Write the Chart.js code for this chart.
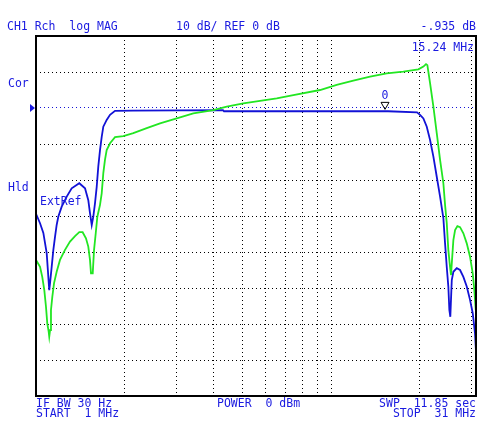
<!DOCTYPE html>
<html>
<head>
<meta charset="utf-8">
<script src="https://cdn.jsdelivr.net/npm/chart.js@4.4.1/dist/chart.umd.min.js"></script>
<style>
  body { margin: 0; background: #fff; }
  #wrap { width: 487px; height: 427px; }
</style>
</head>
<body>
<div id="wrap"><canvas id="trace"></canvas></div>
<script>
// trace 1 (blue), frequency in MHz and magnitude in dB
const blueFreq = [1.000, 1.032, 1.059, 1.087, 1.101, 1.109, 1.116, 1.130, 1.145, 1.160,
  1.175, 1.190, 1.222, 1.271, 1.321, 1.402, 1.466, 1.504, 1.524, 1.545,
  1.564, 1.585, 1.606, 1.626, 1.648, 1.670, 1.691, 1.736, 1.782, 1.853,
  2.132, 4.303, 4.337, 15.61, 19.57, 20.03, 20.56, 21.11, 21.66, 22.23,
  22.82, 23.42, 24.03, 24.35, 24.67, 24.98, 25.18, 25.37, 25.66, 25.98,
  26.68, 27.37, 28.09, 28.84, 29.59, 30.22, 30.76, 31.0];
const blueDb = [-29.4, -32.0, -34.7, -40.3, -46.9, -50.6, -48.6, -44.2, -39.4, -35.8,
  -32.5, -30.2, -27.4, -24.6, -22.3, -20.9, -22.3, -25.6, -29.2, -32.5,
  -30.2, -26.4, -21.9, -16.3, -11.7, -8.0, -5.2, -3.3, -1.9, -0.8,
  -0.75, -0.6, -0.9, -0.9, -1.2, -1.9, -2.9, -5.2, -8.9, -13.5,
  -19.1, -24.6, -30.6, -37.6, -44.1, -49.6, -56.1, -58.0, -47.8, -45.5,
  -44.5, -45.0, -46.9, -49.6, -53.3, -57.0, -62.6, -67.7];

// trace 2 (green)
const greenFreq = [1.000, 1.032, 1.050, 1.067, 1.081, 1.092, 1.104, 1.109, 1.116, 1.124,
  1.136, 1.151, 1.175, 1.206, 1.254, 1.304, 1.356, 1.402, 1.439, 1.477,
  1.504, 1.524, 1.536, 1.557, 1.573, 1.594, 1.614, 1.648, 1.670, 1.691,
  1.713, 1.736, 1.782, 1.853, 1.977, 2.137, 2.373, 2.633, 2.999, 3.413,
  3.990, 4.431, 5.044, 5.744, 6.546, 7.451, 9.177, 10.45, 11.90, 13.56,
  15.45, 17.58, 19.77, 20.56, 20.99, 21.21, 21.66, 22.23, 22.82, 23.42,
  24.03, 24.35, 24.67, 24.98, 25.31, 25.51, 25.71, 25.98, 26.33, 26.81,
  27.37, 28.09, 28.84, 29.59, 30.22, 30.60, 30.94];
const greenDb = [-42.2, -44.1, -46.9, -50.6, -55.2, -59.8, -62.1, -63.5, -61.7, -56.1,
  -52.4, -48.7, -45.5, -42.2, -39.4, -37.1, -35.6, -34.5, -34.5, -36.2,
  -38.5, -42.2, -45.9, -45.9, -39.4, -34.8, -30.2, -26.9, -23.7, -18.1,
  -14.4, -11.7, -9.8, -8.1, -7.8, -7.0, -5.6, -4.3, -2.9, -1.5,
  -0.6, 0.4, 1.3, 2.0, 2.7, 3.6, 5.0, 6.4, 7.6, 8.7,
  9.6, 10.1, 10.75, 11.5, 12.2, 11.9, 6.9, 0.4, -7.0, -14.4,
  -20.9, -26.9, -31.9, -39.4, -44.1, -46.4, -42.2, -36.7, -33.9, -32.8,
  -33.1, -34.8, -37.6, -41.3, -45.9, -50.6, -56.1];

// axes: log frequency 1..31 MHz, 10 dB/div with REF 0 dB
const freqTicks = [1, 2, 3, 4, 5, 6, 7, 8, 9, 10, 20, 30, 31];
const startMHz = 1, stopMHz = 31;
const dbTop = 20, dbBottom = -80, dbPerDiv = 10, refDb = 0;

// marker
const markerFreq = 15.24;
const markerDb = -0.935;

const BLUE = '#1212d6';
const GREEN = '#22e622';
const TEXT = '#1a1ae0';
const FONT = '11.5px "DejaVu Sans Mono", monospace';

const toXY = (fs, ds) => fs.map((f, i) => ({ x: f, y: ds[i] }));

const analyzerText = {
  id: 'analyzerText',
  afterDraw(chart) {
    const { ctx, chartArea: a, scales } = chart;
    ctx.save();
    // frame
    ctx.strokeStyle = '#000';
    ctx.lineWidth = 2;
    ctx.strokeRect(a.left, a.top, a.right - a.left, a.bottom - a.top);

    ctx.fillStyle = TEXT;
    ctx.font = FONT;
    ctx.textBaseline = 'middle';
    ctx.textAlign = 'left';
    ctx.fillText('CH1 Rch  log MAG', 7, 27);
    ctx.fillText('10 dB/ REF 0 dB', 176, 27);
    ctx.fillText('Cor', 8, 84);
    ctx.fillText('Hld', 8, 188);
    ctx.fillText('ExtRef', 40, 202);
    ctx.fillText('IF BW 30 Hz', 36, 404);
    ctx.fillText('START  1 MHz', 36, 414);
    ctx.fillText('POWER  0 dBm', 217, 404);
    ctx.textAlign = 'right';
    ctx.fillText('-.935 dB', 476, 27);
    ctx.fillText('15.24 MHz', 474, 48);
    ctx.fillText('SWP  11.85 sec', 476, 404);
    ctx.fillText('STOP  31 MHz', 476, 414);

    // reference arrow on the left
    const yRef = scales.y.getPixelForValue(refDb);
    ctx.beginPath();
    ctx.moveTo(30, yRef - 4);
    ctx.lineTo(35, yRef);
    ctx.lineTo(30, yRef + 4);
    ctx.closePath();
    ctx.fill();

    // marker 0
    const mx = scales.x.getPixelForValue(markerFreq);
    const my = scales.y.getPixelForValue(markerDb);
    ctx.strokeStyle = '#000';
    ctx.lineWidth = 1;
    ctx.beginPath();
    ctx.moveTo(mx - 4, my - 9);
    ctx.lineTo(mx + 4, my - 9);
    ctx.lineTo(mx, my - 2);
    ctx.closePath();
    ctx.stroke();
    ctx.textAlign = 'center';
    ctx.fillText('0', mx, my - 15);
    ctx.restore();
  }
};

new Chart(document.getElementById('trace'), {
  type: 'line',
  data: {
    datasets: [{
      label: 'trace 2',
      data: toXY(greenFreq, greenDb),
      borderColor: GREEN,
      borderWidth: 1.8,
      pointRadius: 0,
      order: 0
    }, {
      label: 'trace 1',
      data: toXY(blueFreq, blueDb),
      borderColor: BLUE,
      borderWidth: 1.8,
      pointRadius: 0,
      order: 1
    }]
  },
  options: {
    responsive: true,
    maintainAspectRatio: false,
    animation: false,
    layout: { padding: { left: 36, right: 11, top: 36, bottom: 31 } },
    plugins: { legend: { display: false }, tooltip: { enabled: false } },
    scales: {
      x: {
        type: 'logarithmic',
        min: startMHz,
        max: stopMHz,
        afterBuildTicks: s => { s.ticks = freqTicks.map(v => ({ value: v })); },
        ticks: { display: false },
        grid: { color: '#000', lineWidth: 1, drawTicks: false },
        border: { display: false, dash: [1, 3] }
      },
      y: {
        min: dbBottom,
        max: dbTop,
        ticks: { display: false, stepSize: dbPerDiv },
        grid: {
          color: c => (c.tick && c.tick.value === refDb ? BLUE : '#000'),
          lineWidth: 1,
          drawTicks: false
        },
        border: { display: false, dash: [1, 3] }
      }
    }
  },
  plugins: [analyzerText]
});
</script>
</body>
</html>
